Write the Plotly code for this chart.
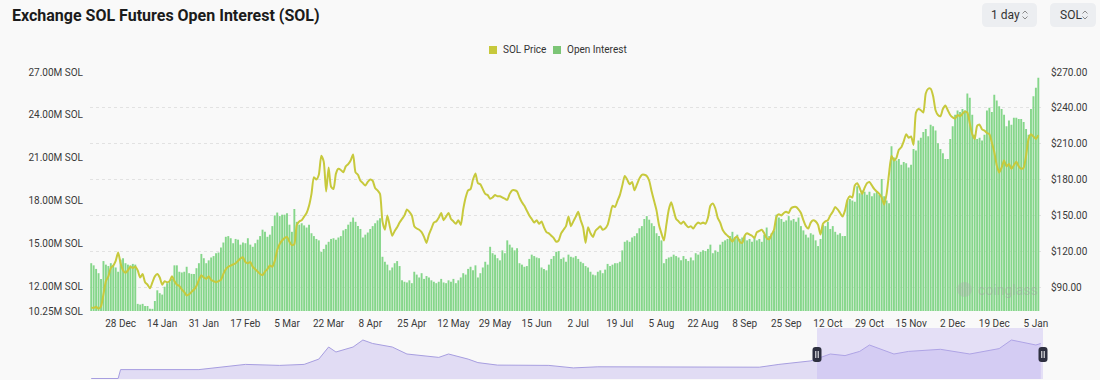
import plotly.graph_objects as go
import pandas as pd

# ---------------- data ----------------
start_date = "2023-12-16"

open_interest_m = [
    13.6, 13.45, 13.2, 12.9, 12.5, 13.75, 13.5, 13.4, 13.6, 13.45,
    13.3, 13.0, 13.85, 13.95, 13.6, 13.5, 13.45, 13.55, 13.5, 10.75,
    10.7, 10.75, 10.6, 10.6, 10.4, 10.4, 10.95, 11.7, 11.5, 11.4,
    11.95, 12.2, 12.3, 12.5, 13.45, 13.45, 13.0, 12.95, 13.0, 13.35,
    12.9, 12.85, 12.85, 13.25, 13.6, 14.25, 13.95, 13.6, 13.8, 14.0,
    14.1, 14.3, 14.35, 14.7, 15.05, 15.45, 15.5, 15.35, 15.0, 15.3,
    15.25, 14.9, 15.05, 15.0, 15.35, 14.9, 14.75, 15.0, 15.25, 15.5,
    15.95, 15.8, 15.45, 15.6, 16.2, 16.95, 17.15, 16.9, 17.0, 17.0,
    17.1, 16.3, 15.8, 17.4, 16.5, 16.3, 16.4, 16.25, 16.1, 16.3,
    15.7, 15.5, 15.3, 15.2, 14.4, 14.6, 14.9, 15.1, 15.3, 15.35,
    15.25, 15.4, 15.5, 15.9, 16.0, 16.3, 16.5, 16.8, 16.5, 16.2,
    16.0, 15.4, 15.6, 15.75, 16.0, 16.2, 16.4, 16.6, 16.75, 14.05,
    13.7, 13.5, 13.1, 13.3, 13.6, 13.75, 13.4, 12.4, 12.3, 12.25,
    12.4, 12.2, 13.0, 12.8, 12.6, 12.9, 12.5, 12.7, 12.6, 12.4,
    12.3, 12.2, 12.3, 12.5, 12.25, 12.2, 12.4, 12.3, 12.5, 12.2,
    12.4, 12.6, 12.9, 12.8, 13.2, 13.35, 13.1, 13.45, 12.6, 12.9,
    13.3, 13.7, 13.5, 14.75, 14.3, 14.2, 13.95, 13.8, 14.5, 14.3,
    15.2, 14.9, 14.7, 14.5, 14.65, 13.6, 13.5, 13.35, 13.4, 13.9,
    14.2, 14.1, 14.0, 13.95, 13.3, 13.2, 13.1, 13.5, 13.9, 14.1,
    14.4, 14.45, 13.9, 14.0, 13.7, 14.2, 14.05, 14.0, 14.1, 13.9,
    13.7, 13.6, 13.4, 13.3, 13.0, 12.8, 12.75, 13.0, 13.1, 12.9,
    13.15, 13.55, 13.4, 13.5, 13.6, 13.6, 13.7, 14.5, 15.1, 15.2,
    15.1, 15.4, 15.5, 15.7, 16.05, 16.2, 16.7, 16.9, 16.65, 16.4,
    16.2, 15.7, 15.5, 15.2, 13.6, 13.9, 14.0, 14.05, 14.2, 14.1,
    14.0, 13.8, 14.1, 13.9, 13.75, 14.0, 13.8, 14.3, 14.2, 14.4,
    14.5, 14.45, 14.6, 14.9, 14.3, 14.5, 14.4, 14.9, 15.1, 15.2,
    15.3, 15.5, 15.8, 15.4, 15.6, 15.3, 15.4, 15.5, 15.2, 15.3,
    15.1, 15.4, 15.2, 15.3, 15.1, 15.6, 16.1, 15.5, 15.7, 15.9,
    17.0, 16.8, 16.7, 16.5, 16.6, 16.9, 16.6, 16.7, 16.5, 16.8,
    16.2, 15.9, 15.6, 15.4, 15.7, 15.6, 15.2, 14.8, 15.3, 16.3,
    16.2, 16.5, 16.0, 16.2, 15.8, 15.6, 15.7, 15.5, 15.5, 18.0,
    18.1, 18.0, 17.9, 19.0, 18.5, 18.7, 18.6, 18.4, 18.6, 18.3,
    18.5, 18.6, 18.4, 19.5, 18.3, 18.0, 17.8, 21.8, 21.0, 20.8,
    20.9, 20.5, 20.7, 20.6, 20.3, 20.5, 21.6, 21.5, 22.2, 22.4,
    22.8, 23.0, 22.5, 23.3, 23.2, 22.9, 22.0, 21.6, 21.3, 20.9,
    20.9, 22.3, 23.2, 24.0, 24.3, 24.2, 24.4, 24.3, 25.5, 25.2,
    24.0, 22.6, 22.3, 22.4, 22.2, 22.6, 24.3, 24.5, 24.2, 25.4,
    25.0, 24.6, 24.4, 24.0, 23.2, 23.6, 23.3, 23.8, 23.8, 23.7,
    23.7, 23.5, 23.0, 22.6, 24.4, 25.3, 25.9, 26.6,
]

sol_price = [
    73, 72.5, 73.5, 72, 74, 84, 95, 99, 106, 108,
    112, 119, 110, 104, 102, 104, 107, 106, 107, 104,
    98, 101, 94, 92, 89, 94, 99, 101, 98, 92,
    95, 94, 95, 99, 95, 92, 91, 88, 86, 83,
    84, 86, 88, 91, 96, 100, 98, 97, 99, 96,
    95, 94, 95, 96, 101, 105, 107, 108, 109, 110,
    112, 114, 115, 111, 110, 111, 107, 105, 103, 101,
    100, 103, 105, 108, 107, 112, 121, 126, 129, 131,
    132, 128, 125, 126, 142, 145, 146, 149, 152, 158,
    168, 182, 180, 184, 200, 195, 170, 190, 174, 172,
    185, 189, 188, 186, 191, 193, 196, 201, 186, 184,
    179, 177, 175, 178, 180, 179, 173, 171, 168, 145,
    138, 150, 141, 133, 137, 140, 144, 147, 150, 155,
    153, 150, 141, 139, 138, 136, 132, 127, 134, 139,
    144, 145, 148, 152, 146, 149, 152, 147, 145, 143,
    146, 142, 155, 165, 171, 172, 180, 185, 177, 176,
    172, 168, 167, 164, 165, 167, 166, 166, 165, 164,
    163, 168, 171, 171, 170, 165, 161, 158, 154, 150,
    147, 144, 146, 143, 145, 140, 136, 135, 133, 131,
    128, 129, 135, 138, 141, 149, 141, 145, 149, 153,
    146, 140, 127, 140, 135, 132, 137, 139, 141, 138,
    139, 142, 150, 158, 157, 162, 167, 175, 183, 180,
    176, 178, 171, 176, 181, 184, 184, 183, 179, 170,
    162, 154, 142, 135, 129, 142, 155, 161, 154, 147,
    145, 143, 145, 142, 140, 141, 139, 142, 144, 143,
    144, 143, 148, 158, 160, 156, 148, 144, 138, 135,
    133, 131, 128, 131, 132, 128, 127, 133, 135, 134,
    133, 131, 136, 137, 138, 135, 131, 130, 134, 138,
    149, 151, 150, 152, 153, 152, 156, 157, 157, 155,
    152, 146, 141, 139, 144, 146, 145, 142, 134, 143,
    145, 146, 150, 153, 157, 155, 152, 149, 154, 163,
    166, 165, 175, 177, 173, 168, 173, 177, 178, 175,
    172, 170, 168, 165, 159, 168, 185, 200, 196, 198,
    205, 207, 212, 218, 215, 216, 209, 236, 239, 238,
    236, 252, 256, 256, 250, 238, 234, 233, 239, 242,
    238, 234, 232, 231, 234, 233, 235, 237, 236, 227,
    218, 214, 225, 226, 222, 221, 219, 218, 211, 203,
    192, 186, 190, 196, 191, 193, 189, 192, 195, 191,
    189, 190, 200, 214, 218, 216, 214, 217,
]

tick_dates = ["2023-12-28", "2024-01-14", "2024-01-31", "2024-02-17", "2024-03-05",
              "2024-03-22", "2024-04-08", "2024-04-25", "2024-05-12", "2024-05-29",
              "2024-06-15", "2024-07-02", "2024-07-19", "2024-08-05", "2024-08-22",
              "2024-09-08", "2024-09-25", "2024-10-12", "2024-10-29", "2024-11-15",
              "2024-12-02", "2024-12-19", "2025-01-05"]
tick_labels = ["28 Dec", "14 Jan", "31 Jan", "17 Feb", "5 Mar", "22 Mar", "8 Apr",
               "25 Apr", "12 May", "29 May", "15 Jun", "2 Jul", "19 Jul", "5 Aug",
               "22 Aug", "8 Sep", "25 Sep", "12 Oct", "29 Oct", "15 Nov", "2 Dec",
               "19 Dec", "5 Jan"]

oi_ticks = [10.25, 12, 15, 18, 21, 24, 27]
oi_tick_labels = ["10.25M SOL", "12.00M SOL", "15.00M SOL", "18.00M SOL",
                  "21.00M SOL", "24.00M SOL", "27.00M SOL"]
price_ticks = [90, 120, 150, 180, 210, 240, 270]
price_tick_labels = ["$90.00", "$120.00", "$150.00", "$180.00", "$210.00",
                     "$240.00", "$270.00"]

# overview (navigator) series, read at turning points
nav_dates = ["2023-12-16", "2023-12-27", "2023-12-28", "2024-01-29", "2024-02-17",
             "2024-03-02", "2024-03-12", "2024-03-18", "2024-03-22", "2024-03-25",
             "2024-04-01", "2024-04-05", "2024-04-09", "2024-04-17", "2024-04-23",
             "2024-05-06", "2024-05-10", "2024-05-18", "2024-05-22", "2024-05-30",
             "2024-06-20", "2024-06-30", "2024-07-10", "2024-08-20", "2024-09-14",
             "2024-09-22", "2024-10-05", "2024-10-13", "2024-10-19", "2024-10-25",
             "2024-10-29", "2024-11-08", "2024-11-14", "2024-11-27", "2024-12-09",
             "2024-12-21", "2024-12-26", "2025-01-05", "2025-01-07"]
nav_values = [0.5, 0.5, 9.4, 9.4, 14.6, 13.6, 14.6, 19.9, 32, 27,
              32, 39, 35.5, 32, 25, 21.6, 25, 19.9, 16.4, 13.9,
              13.6, 11.1, 12.2, 12.2, 11.8, 14.6, 18.1, 25, 23.4, 27.6,
              34, 25, 27.6, 29.7, 25, 30.4, 39, 34, 35.5]

dates = pd.date_range(start_date, periods=len(open_interest_m), freq="D")

# ---------------- geometry ----------------
W, H = 1100, 380
ML, MR, MT, MB = 90, 58, 72, 1
PW, PH = W - ML - MR, H - MT - MB


def px(xp):
    return (xp - ML) / PW


def py(yp):
    return 1 - (yp - MT) / PH


BG = "#f9f9f9"
BAR = "#85d68a"
LINE = "#c7c93c"
FONT = "Roboto"

fig = go.Figure()
fig.add_trace(go.Bar(x=dates, y=open_interest_m, name="Open Interest",
                     marker=dict(color=BAR, line=dict(width=0)),
                     xaxis="x", yaxis="y", showlegend=False))
fig.add_trace(go.Scatter(x=dates, y=sol_price, name="SOL Price", mode="lines",
                         line=dict(color=LINE, width=2, shape="spline", smoothing=0.6),
                         xaxis="x", yaxis="y2", showlegend=False))
fig.add_trace(go.Scatter(x=nav_dates, y=nav_values, mode="lines", fill="tozeroy",
                         line=dict(color="#a79ee0", width=1),
                         fillcolor="rgba(205,196,240,0.55)",
                         xaxis="x2", yaxis="y3", showlegend=False, hoverinfo="skip"))

xrange = ["2023-12-15 12:00", "2025-01-07 12:00"]
main_bottom = py(311)
nav_top = py(328)

fig.update_layout(
    width=W, height=H,
    margin=dict(l=ML, r=MR, t=MT, b=MB, autoexpand=False),
    paper_bgcolor=BG, plot_bgcolor=BG,
    bargap=0.22,
    hovermode=False,
    showlegend=False,
    font=dict(family=FONT, size=10, color="#333333"),
    xaxis=dict(domain=[0, 1], anchor="y", range=xrange, tickvals=tick_dates,
               ticktext=tick_labels, showgrid=False, zeroline=False, showline=False,
               ticks="", automargin=False, ticklabelstandoff=5,
               tickfont=dict(family=FONT, size=10, color="#3a3a3a")),
    yaxis=dict(domain=[main_bottom, 1], range=[10.25, 27.0], tickvals=oi_ticks,
               ticktext=oi_tick_labels, showgrid=False, zeroline=False, ticks="",
               ticklabelstandoff=6, automargin=False,
               tickfont=dict(family=FONT, size=10, color="#3a3a3a")),
    yaxis2=dict(overlaying="y", side="right", range=[70, 270], tickvals=price_ticks,
                ticktext=price_tick_labels, showgrid=True, gridcolor="#e2e2e2",
                griddash="dot", gridwidth=1, zeroline=False, ticks="",
                ticklabelstandoff=8, automargin=False,
                tickfont=dict(family=FONT, size=10, color="#3a3a3a")),
    xaxis2=dict(domain=[0, 1], anchor="y3", range=xrange, visible=False,
                automargin=False),
    yaxis3=dict(domain=[0, nav_top], range=[0, 51], visible=False, automargin=False),
    title=dict(text="<b>Exchange SOL Futures Open Interest (SOL)</b>",
               x=12 / W, y=1 - 15 / H, xanchor="left", yanchor="middle",
               font=dict(family=FONT, size=16, color="#1b1b1b")),
)

shapes = []
annotations = []


def rounded_rect(x0, y0, x1, y1, r, fill, line="rgba(0,0,0,0)"):
    path = (f"M{px(x0 + r)},{py(y0)} L{px(x1 - r)},{py(y0)} "
            f"Q{px(x1)},{py(y0)} {px(x1)},{py(y0 + r)} "
            f"L{px(x1)},{py(y1 - r)} Q{px(x1)},{py(y1)} {px(x1 - r)},{py(y1)} "
            f"L{px(x0 + r)},{py(y1)} Q{px(x0)},{py(y1)} {px(x0)},{py(y1 - r)} "
            f"L{px(x0)},{py(y0 + r)} Q{px(x0)},{py(y0)} {px(x0 + r)},{py(y0)} Z")
    return dict(type="path", xref="paper", yref="paper", path=path,
                fillcolor=fill, line=dict(color=line, width=1), layer="above")


def chevrons(cx, cy):
    out = []
    for d in (-1, 1):
        path = (f"M{px(cx - 2.5)},{py(cy + d * 1.5)} L{px(cx)},{py(cy + d * 4)} "
                f"L{px(cx + 2.5)},{py(cy + d * 1.5)}")
        out.append(dict(type="path", xref="paper", yref="paper", path=path,
                        line=dict(color="#8a8a8a", width=1)))
    return out


# top-right selectors
shapes.append(rounded_rect(982, 3, 1037, 27, 5, "#eceef1"))
shapes.append(rounded_rect(1050, 3, 1096, 27, 5, "#eceef1"))
shapes += chevrons(1025, 15)
shapes += chevrons(1085, 15)
annotations.append(dict(text="1 day", x=px(989), y=py(15), xref="paper", yref="paper",
                        xanchor="left", yanchor="middle", showarrow=False,
                        font=dict(family=FONT, size=12, color="#333")))
annotations.append(dict(text="SOL", x=px(1058), y=py(15), xref="paper", yref="paper",
                        xanchor="left", yanchor="middle", showarrow=False,
                        font=dict(family=FONT, size=12, color="#333")))

# legend
for x0, col, label in [(489, LINE, "SOL Price"), (553, "#7cc576", "Open Interest")]:
    shapes.append(dict(type="rect", xref="paper", yref="paper",
                       x0=px(x0), x1=px(x0 + 8), y0=py(46), y1=py(54),
                       fillcolor=col, line=dict(width=0)))
    annotations.append(dict(text=label, x=px(x0 + 12), y=py(50), xref="paper",
                            yref="paper", xanchor="left", yanchor="middle",
                            showarrow=False,
                            font=dict(family=FONT, size=10, color="#333")))

# watermark
shapes.append(dict(type="circle", xref="paper", yref="paper",
                   x0=px(957), x1=px(972), y0=py(282), y1=py(297),
                   fillcolor="rgba(170,170,170,0.35)", line=dict(width=0)))
annotations.append(dict(text="coinglass", x=px(976), y=py(290), xref="paper",
                        yref="paper", xanchor="left", yanchor="middle", showarrow=False,
                        font=dict(family=FONT, size=14, color="rgba(160,160,160,0.45)")))

# navigator selection window and handles
shapes.append(dict(type="rect", xref="paper", yref="paper", x0=px(817), x1=px(1043),
                   y0=py(379), y1=py(328), fillcolor="rgba(190,176,240,0.35)",
                   line=dict(width=0), layer="above"))
for hx in (817, 1043):
    shapes.append(rounded_rect(hx - 4.5, 347, hx + 4.5, 362, 3, "#2e3040"))
    for dx in (-1.2, 1.2):
        shapes.append(dict(type="line", xref="paper", yref="paper",
                           x0=px(hx + dx), x1=px(hx + dx), y0=py(351), y1=py(358),
                           line=dict(color="#ffffff", width=1)))

fig.update_layout(shapes=shapes, annotations=annotations)

fig.write_html("out.html",
               config={"displayModeBar": False, "staticPlot": True},
               post_script="document.body.style.margin='0';"
                           "document.body.style.overflow='hidden';")
